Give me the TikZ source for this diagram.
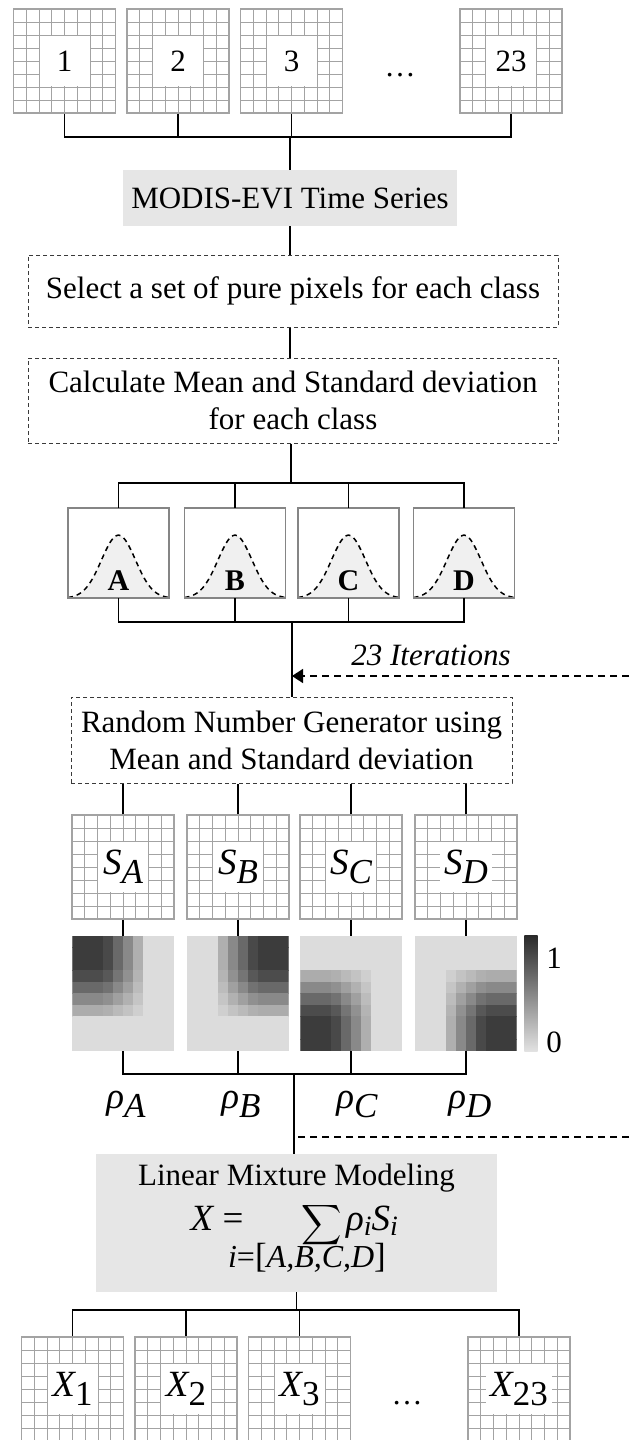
\documentclass[tikz,border=0pt]{standalone}
\usepackage{graphicx}
\usepackage{fontspec}
\setmainfont{Liberation Serif}
\usetikzlibrary{calc,arrows.meta}
\definecolor{gridgray}{HTML}{A3A3A3}
\definecolor{framegray}{HTML}{858585}
\definecolor{boxfill}{HTML}{E6E6E6}
\definecolor{dashgray}{HTML}{3A3A3A}
\definecolor{bellfill}{HTML}{F0F0F0}
\definecolor{imgbg}{HTML}{DCDCDC}
\definecolor{cbtop}{HTML}{2A2A2A}
\definecolor{cbbot}{HTML}{E2E2E2}
\newcommand{\mfs}{\fontsize{37}{37}\selectfont}
\newcommand{\sbfs}{\fontsize{35}{35}\selectfont}
\newcommand{\symsub}[2]{{\mfs\itshape #1}\raisebox{-9pt}{\sbfs #2}}
\newcommand{\smallsub}[2]{{\mfs\itshape #1}\raisebox{-5pt}{\fontsize{28}{28}\selectfont\itshape #2}}
\tikzset{
  conn/.style={line width=1.6pt, draw=black},
  fbdash/.style={line width=1.6pt, draw=black, dash pattern=on 7pt off 5pt},
  dashbox/.style={draw=dashgray, line width=1pt, dash pattern=on 4pt off 3pt, inner sep=0pt, align=center},
  graybox/.style={fill=boxfill, inner sep=0pt, align=center},
  pixgrid/.style={minimum width=102pt, minimum height=104pt, inner sep=0pt, draw=gridgray, line width=1.2pt,
    path picture={
      \foreach \k in {1,...,7}{
        \draw[gridgray, line width=1pt]
          ($(path picture bounding box.north west)!\k/8!(path picture bounding box.north east)$) --
          ($(path picture bounding box.south west)!\k/8!(path picture bounding box.south east)$)
          ($(path picture bounding box.north west)!\k/8!(path picture bounding box.south west)$) --
          ($(path picture bounding box.north east)!\k/8!(path picture bounding box.south east)$);
      }}},
  lab/.style={fill=white, minimum width=50pt, minimum height=50pt, inner xsep=4pt, inner ysep=2pt},
  distbox/.style={minimum width=101pt, minimum height=90pt, inner sep=0pt},
  distframe/.style={draw=framegray, line width=1.5pt},
  imgbox/.style={minimum width=101pt, minimum height=115pt, inner sep=0pt},
  belldash/.style={draw=black, line width=1.5pt, dash pattern=on 5pt off 4pt},
  letter/.style={font=\fontsize{30}{30}\selectfont\bfseries, inner sep=0pt},
  plain/.style={inner sep=0pt},
}
\newcommand{\gradimg}[4]{%
  \node[imgbox] (#1) at #2 {};
  \fill[imgbg] (#1.north west) rectangle (#1.south east);
  \begin{scope}
  \clip (#1.north west) rectangle (#1.south east);
  \foreach \i in {0,...,9}{\foreach \j in {0,...,9}{%
    \pgfmathtruncatemacro\ii{#3*(9-\i)+(1-#3)*\i}%
    \pgfmathtruncatemacro\jj{#4*(9-\j)+(1-#4)*\j}%
    \pgfmathsetmacro\va{{1,1,1,0.92,0.72,0.52,0.28,0,0,0}[\ii]}%
    \pgfmathsetmacro\vb{{1,1,1,0.9,0.72,0.52,0.3,0,0,0}[\jj]}%
    \pgfmathsetmacro\pc{13.7+62.7*\va*\vb}%
    \fill[black!\pc] ($(#1.north west)+(\i*10.1,\j*11.5)$) rectangle ++(10.4,11.8);
  }}
  \end{scope}}
\newcommand{\bell}[1]{%
  \begin{scope}[shift={(#1.south)}]
    \fill[bellfill] plot[domain=-50.5:50.5, samples=80] (\x,{-63*exp(-(\x*\x)/578)}) -- cycle;
    \draw[belldash] plot[domain=-50.5:50.5, samples=80] (\x,{-63*exp(-(\x*\x)/578)});
  \end{scope}
  \draw[distframe] (#1.north west) rectangle (#1.south east);}
\begin{document}
\begin{tikzpicture}[x=1pt, y=-1pt, font=\fontsize{31}{37}\selectfont]
\fill[white] (0,0) rectangle (629,1440);
\useasboundingbox (0,0) rectangle (629,1440);

% ---- top grids
\node[pixgrid] (g1) at (64.5,61) {};
\node[pixgrid] (g2) at (178,61) {};
\node[pixgrid] (g3) at (291.5,61) {};
\node[pixgrid] (g23) at (511,61) {};
\node[lab] (l1) at (g1) {1};
\node[lab] (l2) at (g2) {2};
\node[lab] (l3) at (g3) {3};
\node[lab] (l23) at (g23) {23};
\node[plain, anchor=base] (dots1) at (400,76) {…};

\node[graybox, minimum width=334pt, minimum height=56pt] (modis) at (290,198) {MODIS-EVI Time Series};
\node[dashbox, minimum width=530pt, minimum height=72pt] (sel) at (293,291) {Select a set of pure pixels for each class};
\node[dashbox, minimum width=530pt, minimum height=85pt] (calc) at (293,400.5) {Calculate Mean and Standard deviation\\for each class};

\coordinate (ax1) at (291,137);
\draw[conn] (g1.south) -- (g1.south |- ax1) -- (g23.south |- ax1) -- (g23.south);
\draw[conn] (g2.south) -- (g2.south |- ax1);
\draw[conn] (g3.south) -- (g3.south |- ax1);
\draw[conn] (modis.north |- ax1) -- (modis.north);
\draw[conn] (modis.south) -- (modis.south |- sel.north);
\draw[conn] (modis.south |- sel.south) -- (modis.south |- calc.north);

% ---- distributions
\node[distbox] (dA) at (118.5,553) {};
\node[distbox] (dB) at (235,553) {};
\node[distbox] (dC) at (348.5,553) {};
\node[distbox] (dD) at (464,553) {};
\bell{dA}\bell{dB}\bell{dC}\bell{dD}
\node[letter, anchor=base] (tA) at ($(dA.south)+(0,-8)$) {A};
\node[letter, anchor=base] (tB) at ($(dB.south)+(0,-8)$) {B};
\node[letter, anchor=base] (tC) at ($(dC.south)+(0,-8)$) {C};
\node[letter, anchor=base] (tD) at ($(dD.south)+(0,-8)$) {D};

\coordinate (ax2) at (291,483);
\draw[conn] (ax2 |- calc.south) -- (ax2);
\draw[conn] (dA.north) -- (dA.north |- ax2) -- (dD.north |- ax2) -- (dD.north);
\draw[conn] (dB.north) -- (dB.north |- ax2);
\draw[conn] (dC.north) -- (dC.north |- ax2);

\node[dashbox, minimum width=441pt, minimum height=86pt] (rng) at (291.5,740) {Random Number Generator using\\Mean and Standard deviation};

\coordinate (ax3) at (292,622);
\draw[conn] (dA.south) -- (dA.south |- ax3) -- (dD.south |- ax3) -- (dD.south);
\draw[conn] (dB.south) -- (dB.south |- ax3);
\draw[conn] (dC.south) -- (dC.south |- ax3);
\draw[conn] (ax3) -- (ax3 |- rng.north);
\coordinate (fb1) at (629,676);
\draw[fbdash, -{Triangle[length=11pt, width=14pt]}] (fb1) -- (ax3 |- fb1);
\node[plain, anchor=base, font=\fontsize{31}{37}\selectfont\itshape] (iter) at (431,665) {23 Iterations};

% ---- S grids
\node[pixgrid] (sA) at (123,867) {};
\node[pixgrid] (sB) at (238,867) {};
\node[pixgrid] (sC) at (351,867) {};
\node[pixgrid] (sD) at (466,867) {};
\node[lab] (lsA) at (sA) {\symsub{S}{\itshape A}};
\node[lab] (lsB) at (sB) {\symsub{S}{\itshape B}};
\node[lab] (lsC) at (sC) {\symsub{S}{\itshape C}};
\node[lab] (lsD) at (sD) {\symsub{S}{\itshape D}};
\draw[conn] (sA.north) -- (sA.north |- rng.south);
\draw[conn] (sB.north) -- (sB.north |- rng.south);
\draw[conn] (sC.north) -- (sC.north |- rng.south);
\draw[conn] (sD.north) -- (sD.north |- rng.south);

% ---- abundance images
\gradimg{iA}{(123,993.5)}{0}{0}
\gradimg{iB}{(238,993.5)}{1}{0}
\gradimg{iC}{(351,993.5)}{0}{1}
\gradimg{iD}{(466,993.5)}{1}{1}
\draw[conn] (sA.south) -- (iA.north);
\draw[conn] (sB.south) -- (iB.north);
\draw[conn] (sC.south) -- (iC.north);
\draw[conn] (sD.south) -- (iD.north);

\node[plain, minimum width=13pt, minimum height=115pt] (cbar) at (531,993.5) {};
\shade[top color=cbtop, bottom color=cbbot] (cbar.north west) rectangle (cbar.south east);
\node[plain] (c1) at (554,958) {1};
\node[plain] (c0) at (554,1042) {0};

\coordinate (ax4) at (294,1074);
\draw[conn] (iA.south) -- (iA.south |- ax4) -- (iD.south |- ax4) -- (iD.south);
\draw[conn] (iB.south) -- (iB.south |- ax4);
\draw[conn] (iC.south) -- (iC.south |- ax4);

\node[plain, anchor=base] (rA) at (126,1108) {\symsub{ρ}{\itshape A}};
\node[plain, anchor=base] (rB) at (241,1108) {\symsub{ρ}{\itshape B}};
\node[plain, anchor=base] (rC) at (357,1108) {\symsub{ρ}{\itshape C}};
\node[plain, anchor=base] (rD) at (470,1108) {\symsub{ρ}{\itshape D}};

% ---- linear mixture
\node[graybox, minimum width=401pt, minimum height=138pt] (lmm) at (296.5,1223) {};
\draw[conn] (ax4) -- (ax4 |- lmm.north);
\coordinate (fb2) at (629,1137);
\draw[fbdash] (fb2) -- (ax4 |- fb2);
\node[plain, anchor=base] (lmmt) at (296.5,1185) {Linear Mixture Modeling};
\node[plain, anchor=base] (fx) at (217,1230) {{\mfs\itshape X}\hspace{0.3em}{\mfs =}};
\node[plain] (fsum) at (322,1225) {\scalebox{2.8}{$\displaystyle\sum$}};
\node[plain, anchor=base west] (frs) at (346,1230) {\smallsub{ρ}{i}\smallsub{S}{i}};
\node[plain, anchor=base, font=\fontsize{32}{32}\selectfont] (flim) at (307,1267) {{\itshape i}={\fontsize{35}{35}\selectfont[}{\itshape A,B,C,D}{\fontsize{35}{35}\selectfont]}};

% ---- output grids
\node[pixgrid] (x1) at (72.5,1389) {};
\node[pixgrid] (x2) at (186,1389) {};
\node[pixgrid] (x3) at (299.5,1389) {};
\node[pixgrid] (x23) at (519,1389) {};
\node[lab] (lx1) at (x1) {\symsub{X}{1}};
\node[lab] (lx2) at (x2) {\symsub{X}{2}};
\node[lab] (lx3) at (x3) {\symsub{X}{3}};
\node[lab] (lx23) at (x23) {\symsub{X}{23}};
\node[plain, anchor=base] (dots2) at (407,1404) {…};
\coordinate (ax5) at (297,1310);
\draw[conn] (lmm.south) -- (lmm.south |- ax5);
\draw[conn] (x1.north) -- (x1.north |- ax5) -- (x23.north |- ax5) -- (x23.north);
\draw[conn] (x2.north) -- (x2.north |- ax5);
\draw[conn] (x3.north) -- (x3.north |- ax5);
\end{tikzpicture}
\end{document}
